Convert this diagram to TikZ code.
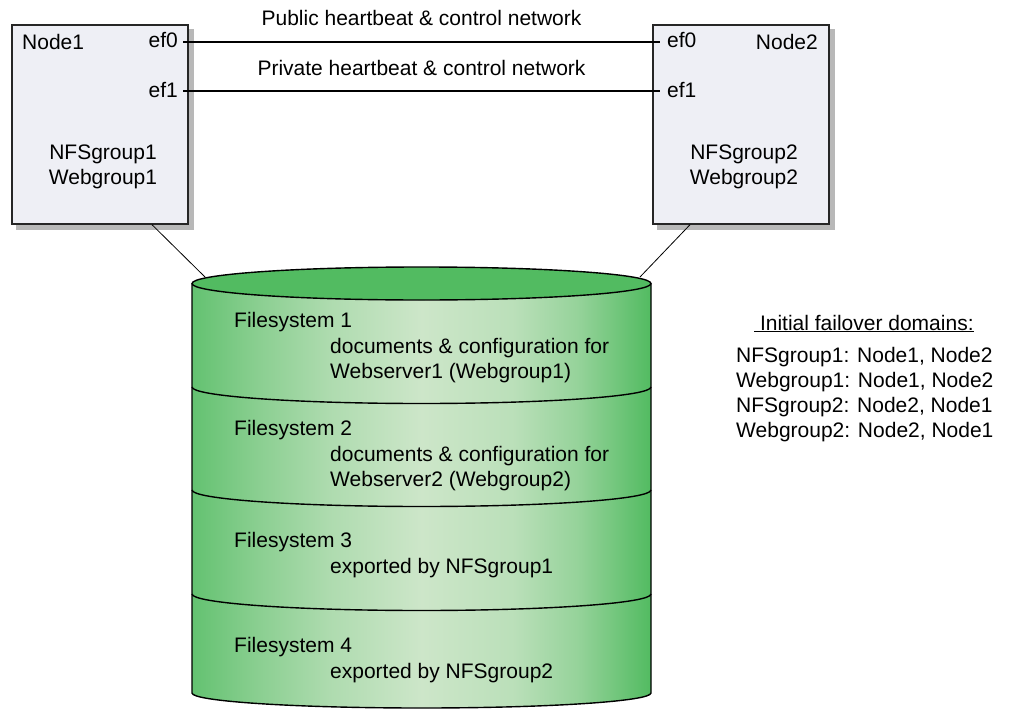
\documentclass[tikz,border=0pt]{standalone}
\usepackage{fontspec}
\setmainfont{Liberation Sans}
\usetikzlibrary{backgrounds}
\definecolor{boxfill}{HTML}{EEEFF5}
\definecolor{shadowgray}{HTML}{B8B8B8}
\definecolor{diskgreen}{HTML}{52BB61}
\definecolor{disklight}{HTML}{CDE6C9}
\pgfdeclarehorizontalshading{diskshade}{100bp}{%
    color(0bp)=(diskgreen!90!white); color(25bp)=(diskgreen!90!white);
    color(32bp)=(diskgreen!55!disklight); color(40bp)=(diskgreen!25!disklight);
    color(50bp)=(disklight); color(60bp)=(diskgreen!15!disklight);
    color(67bp)=(diskgreen!45!disklight); color(75bp)=(diskgreen);
    color(100bp)=(diskgreen)}
\begin{document}
\begin{tikzpicture}[x=1pt, y=-1pt,
        every node/.style={font=\fontsize{21}{25}\selectfont, inner sep=0pt},
        server/.style={draw=black!85, line width=1.4pt, fill=boxfill, minimum width=176pt, minimum height=199pt},
        lbl/.style={anchor=base west},
        rlbl/.style={anchor=base east},
        clbl/.style={anchor=base},
        net/.style={line width=2pt},
        link/.style={line width=0.8pt},
        disk/.style={draw=black, line width=1.4pt}
    ]
        \useasboundingbox (0,0) rectangle (1009,709);

        % Hai máy chủ
        \node [server] (node1) at (100,124.5) {};
        \node [server] (node2) at (741,124.5) {};
        \begin{pgfonlayer}{background}
            \fill[shadowgray] ([shift={(5,5)}]node1.north west) rectangle ([shift={(5,5)}]node1.south east);
            \fill[shadowgray] ([shift={(5,5)}]node2.north west) rectangle ([shift={(5,5)}]node2.south east);
        \end{pgfonlayer}

        \node [lbl] (n1name) at (22,50) {Node1};
        \node [rlbl] (n1ef0) at (178,48) {ef0};
        \node [rlbl] (n1ef1) at (178,97) {ef1};
        \node [clbl] (n1nfs) at (103,159) {NFSgroup1};
        \node [clbl] (n1web) at (103,184) {Webgroup1};

        \node [rlbl] (n2name) at (818,50) {Node2};
        \node [lbl] (n2ef0) at (667,48) {ef0};
        \node [lbl] (n2ef1) at (667,97) {ef1};
        \node [clbl] (n2nfs) at (744,159) {NFSgroup2};
        \node [clbl] (n2web) at (744,184) {Webgroup2};

        % Mạng heartbeat
        \draw[net] ([xshift=5pt,yshift=6pt]n1ef0.base east) -- node[midway, anchor=base, yshift=16pt] (pubnet) {Public heartbeat \& control network} ([xshift=-7pt,yshift=6pt]n2ef0.base west);
        \draw[net] ([xshift=5pt,yshift=6pt]n1ef1.base east) -- node[midway, anchor=base, yshift=16pt] (privnet) {Private heartbeat \& control network} ([xshift=-7pt,yshift=6pt]n2ef1.base west);

        % Ổ đĩa dùng chung
        \coordinate (disk-l) at (205,277);
        \coordinate (disk-r) at (640,277);
        \draw[link] ([xshift=52pt]node1.south) -- (disk-l);
        \draw[link] ([xshift=-51pt]node2.south) -- (disk-r);

        \shade[shading=diskshade]
            (192,283.5) -- (192,693) arc[start angle=180, end angle=360, x radius=229.5pt, y radius=15pt] -- (651,283.5) -- cycle;
        \draw[disk] (192,283.5) -- (192,693) arc[start angle=180, end angle=360, x radius=229.5pt, y radius=15pt] -- (651,283.5);
        \draw[disk, fill=diskgreen] (421.5,283.5) ellipse [x radius=229.5pt, y radius=16.5pt];
        \draw[disk] (192,387) arc[start angle=180, end angle=360, x radius=229.5pt, y radius=16.5pt];
        \draw[disk] (192,490) arc[start angle=180, end angle=360, x radius=229.5pt, y radius=16.5pt];
        \draw[disk] (192,594) arc[start angle=180, end angle=360, x radius=229.5pt, y radius=16.5pt];

        \node [lbl] (fs1) at (234,327) {Filesystem 1};
        \node [lbl] (fs1a) at (330,353) {documents \& configuration for};
        \node [lbl] (fs1b) at (330,378) {Webserver1 (Webgroup1)};
        \node [lbl] (fs2) at (234,435) {Filesystem 2};
        \node [lbl] (fs2a) at (330,461) {documents \& configuration for};
        \node [lbl] (fs2b) at (330,486) {Webserver2 (Webgroup2)};
        \node [lbl] (fs3) at (234,547) {Filesystem 3};
        \node [lbl] (fs3a) at (330,573) {exported by NFSgroup1};
        \node [lbl] (fs4) at (234,652) {Filesystem 4};
        \node [lbl] (fs4a) at (330,678) {exported by NFSgroup2};

        % Miền failover ban đầu
        \node [lbl] (fotitle) at (754,330) {\underline{\ Initial failover domains:}};
        \node [lbl] (fo1) at (736,362) {NFSgroup1: Node1, Node2};
        \node [lbl] (fo2) at (736,387) {Webgroup1: Node1, Node2};
        \node [lbl] (fo3) at (736,412) {NFSgroup2: Node2, Node1};
        \node [lbl] (fo4) at (736,437) {Webgroup2: Node2, Node1};
    \end{tikzpicture}
\end{document}
